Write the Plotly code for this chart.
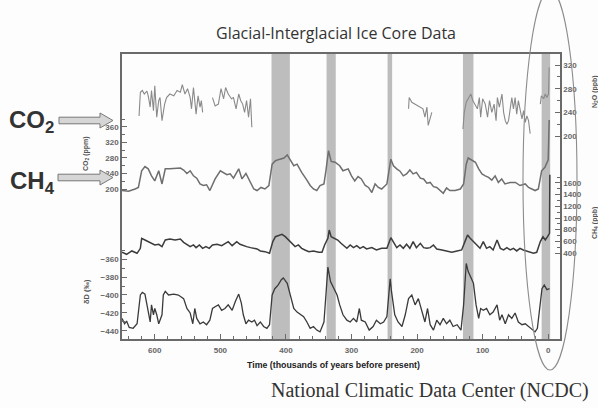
import plotly.graph_objects as go

W, H = 598, 408

# ---- data -------------------------------------------------------------
# interglacial periods (thousands of years before present)
interglacials = [(422, 394), (338, 324), (245, 238), (130, 114), (10, -3)]

co2_age = [650, 640, 630, 625, 620, 615, 610, 605, 600, 594, 589, 584, 577, 569, 561, 556,
           551, 546, 541, 536, 531, 526, 521, 516, 508, 500, 495, 490, 485, 480, 472, 467,
           461, 454, 449, 444, 438, 432, 426, 421, 416, 409, 403, 398, 393, 388, 383, 376,
           368, 363, 358, 353, 348, 342, 339, 335, 331, 325, 318, 313, 305, 300, 295, 290,
           285, 279, 274, 269, 264, 259, 254, 246, 240, 236, 231, 226, 221, 216, 211, 206,
           201, 195, 190, 185, 180, 175, 170, 165, 160, 155, 150, 142, 134, 129, 125, 122,
           117, 111, 106, 101, 96, 91, 86, 81, 76, 71, 66, 58, 50, 43, 35, 30, 25, 20, 15,
           10, 5, 0, -1.5]
co2_ppm = [196, 194, 200, 204, 247, 258, 252, 234, 221, 247, 213, 252, 252, 253, 254, 249,
           240, 247, 234, 228, 213, 209, 211, 196, 226, 247, 242, 237, 239, 228, 252, 226,
           240, 215, 200, 196, 204, 200, 209, 264, 273, 277, 280, 288, 275, 260, 264, 243,
           223, 209, 200, 196, 209, 213, 247, 299, 271, 269, 260, 247, 252, 234, 221, 232,
           226, 209, 204, 191, 213, 204, 200, 213, 277, 260, 252, 246, 234, 239, 249, 239,
           243, 228, 226, 215, 217, 206, 204, 197, 189, 203, 196, 196, 200, 213, 264, 280,
           275, 269, 252, 239, 234, 230, 223, 234, 217, 226, 213, 217, 217, 209, 213, 204,
           200, 196, 200, 247, 256, 275, 378]

n2o_age = [624, 622, 619, 616, 612, 610, 607, 605, 602, 600, 597, 594, 592, 589, 585, 582,
           577, 571, 566, 561, 558, 554, 550, 546, 544, 541, 537, 534, 531, 529, 527, None,
           512, 508, 503, 499, 495, 492, 488, 483, 480, 476, 472, 469, 466, 463, 460, 457,
           454, 452, None,
           213, 212, 208, 203, 199.5, 195, 191, 188, 185, 183, 180, 177.5, None,
           130, 128, 125, 121.5, 118, 115, 111.5, 108, 105, 103, 100, 96, 92.5, 89.5, 86,
           82.5, 79.5, 77.5, 74.5, 70.5, 68, 65.5, 63, 60.5, 55.5, 53, 50.5, 48, 45.5, 43,
           40, 37.5, 35, 32.5, 30, 27.5, None,
           12, 10.5, 7, 4.5, 2, -0.5, -1.5]
n2o_ppb = [234, 274, 277, 271, 276, 268, 249, 277, 243, 285, 232, 260, 265, 226, 254, 265,
           271, 268, 277, 274, 287, 271, 280, 265, 246, 282, 237, 268, 249, 260, 240, None,
           265, 251, 254, 280, 263, 282, 271, 263, 265, 246, 271, 260, 254, 240, 260, 232,
           263, 215, None,
           246, 265, 257, 254, 251, 249, 246, 232, 249, 218, 229, 240, None,
           212, 240, 257, 263, 271, 260, 254, 246, 265, 232, 263, 254, 232, 260, 240,
           254, 226, 265, 249, 271, 240, 226, 220, 226, 265, 246, 265, 237, 260, 246,
           229, 243, 223, 234, 226, 204, None,
           254, 268, 263, 271, 265, 271, 316]

ch4_age = [650, 643, 635, 627, 622, 620, 615, 610, 605, 600, 594, 589, 584, 577, 569, 561,
           556, 551, 546, 541, 537, 532, 527, 522, 517, 512, 505, 498, 493, 488, 482, 475,
           470, 465, 460, 454, 449, 444, 439, 432, 425, 420, 416, 411, 406, 401, 396, 391,
           386, 381, 376, 371, 365, 358, 350, 345, 341, 336, 334, 331, 326, 321, 316, 313,
           307, 302, 297, 292, 287, 282, 277, 269, 262, 254, 246, 240, 236, 231, 226, 221,
           216, 211, 206, 201, 195, 190, 185, 180, 175, 170, 162, 155, 147, 139, 132, 127,
           123, 119, 114, 109, 104, 99, 94, 89, 84, 78, 73, 68, 63, 58, 53, 48, 43, 38, 33,
           27.5, 22.5, 17.5, 12, 8, 4.5, 1, -2, -2.5]
ch4_ppb = [412, 378, 435, 395, 480, 652, 623, 595, 566, 538, 549, 509, 623, 640, 623, 640,
           583, 549, 509, 538, 492, 538, 480, 509, 480, 538, 549, 526, 566, 595, 526, 595,
           549, 526, 509, 492, 480, 469, 435, 423, 395, 595, 680, 697, 720, 680, 623, 549,
           509, 538, 480, 452, 423, 435, 412, 412, 538, 652, 794, 680, 652, 623, 566, 538,
           480, 538, 492, 526, 480, 509, 469, 492, 452, 480, 480, 663, 595, 492, 538, 480,
           549, 480, 595, 492, 566, 492, 480, 492, 538, 469, 452, 435, 412, 435, 452, 595,
           709, 652, 595, 526, 480, 595, 480, 509, 452, 623, 480, 452, 492, 452, 480, 435,
           480, 452, 435, 412, 395, 412, 595, 680, 623, 680, 737, 1740]

dd_age = [650, 646, 643, 639, 633, 627, 622, 619, 615, 611, 607, 605, 602, 600, 597, 594,
          589, 587, 584, 579, 571, 564, 556, 551, 546, 542, 539, 536, 531, 526, 521, 516,
          512, 508, 503, 498, 493, 488, 482, 477, 472, 468, 465, 461, 457, 452, 448, 444,
          439, 434, 429, 425, 421, 417, 412, 407, 404, 398, 393, 388, 383, 378, 373, 368,
          363, 358, 353, 348, 342, 339, 336, 332, 327, 322, 318, 313, 307, 302, 297, 292,
          288, 285, 279, 273, 267, 262, 256, 251, 246, 241, 239, 234, 229, 223, 218, 213,
          208, 203, 198, 193, 188, 184, 180, 175, 170, 165, 160, 155, 150, 145, 139, 133,
          129, 125, 122, 117, 114, 110, 106, 103, 99, 94, 89, 84, 78, 74, 70.5, 65.5, 60.5,
          55.5, 50.5, 45.5, 40, 35, 30, 25, 20, 16.5, 13, 9.5, 6, 2, -2]
dd_permil = [-426, -432, -429, -436, -437, -432, -400, -397, -399, -415, -430, -411, -422,
             -415, -422, -432, -422, -400, -396, -400, -399, -400, -404, -415, -420, -432,
             -415, -426, -432, -430, -433, -428, -415, -413, -411, -417, -415, -411, -417,
             -407, -399, -409, -422, -432, -428, -430, -428, -434, -430, -435, -437, -433,
             -400, -393, -389, -383, -381, -387, -400, -415, -419, -422, -424, -430, -437,
             -435, -439, -441, -430, -400, -369, -385, -393, -400, -411, -422, -428, -430,
             -426, -430, -415, -428, -430, -439, -435, -428, -432, -430, -424, -382, -396,
             -422, -430, -435, -422, -404, -400, -411, -404, -417, -430, -415, -433, -439,
             -428, -433, -426, -432, -428, -435, -433, -439, -411, -365, -374, -382, -387,
             -411, -426, -415, -417, -415, -422, -419, -411, -428, -422, -432, -422, -426,
             -420, -430, -433, -432, -435, -439, -441, -437, -411, -393, -389, -394, -393]

# ---- helpers: pixel -> paper ------------------------------------------
def px(x):
    return x / W


def py(y):
    return 1 - y / H


PLOT_L, PLOT_R, PLOT_T, PLOT_B = 122, 560, 54, 339
ydom = [py(PLOT_B), py(PLOT_T)]

fig = go.Figure()

fig.add_trace(go.Scatter(x=n2o_age, y=n2o_ppb, mode="lines", yaxis="y2",
                         line=dict(color="#8a8a8a", width=1.1), showlegend=False))
fig.add_trace(go.Scatter(x=co2_age, y=co2_ppm, mode="lines", yaxis="y",
                         line=dict(color="#6e6e6e", width=1.5), showlegend=False))
fig.add_trace(go.Scatter(x=ch4_age, y=ch4_ppb, mode="lines", yaxis="y3",
                         line=dict(color="#3c3c3c", width=1.5), showlegend=False))
fig.add_trace(go.Scatter(x=dd_age, y=dd_permil, mode="lines", yaxis="y4",
                         line=dict(color="#3a3a3a", width=1.3), showlegend=False))

shapes = []
for a, b in interglacials:
    shapes.append(dict(type="rect", xref="x", yref="paper", x0=a, x1=b,
                       y0=ydom[0], y1=ydom[1], fillcolor="#bdbdbd",
                       line=dict(width=0), layer="below"))


def arrow(x0, x1, xh, yc, bh, hh):
    pts = [(x0, yc - bh), (xh, yc - bh), (xh, yc - hh), (x1, yc),
           (xh, yc + hh), (xh, yc + bh), (x0, yc + bh)]
    d = "M " + " L ".join(f"{px(a):.5f},{py(b):.5f}" for a, b in pts) + " Z"
    return dict(type="path", xref="paper", yref="paper", path=d,
                fillcolor="#d6d6d6", line=dict(color="#777777", width=1))


shapes.append(arrow(59, 113, 100, 120.5, 3.3, 7.5))
shapes.append(arrow(58, 113, 100, 177.5, 3.3, 7.5))

# highlight around the present day
shapes.append(dict(type="circle", xref="paper", yref="paper",
                   x0=px(523), x1=px(577), y0=py(370), y1=py(-10),
                   line=dict(color="#8c8c8c", width=1.1)))

tickfont = dict(family="Arial", size=8, color="#666666", weight="bold")
common = dict(domain=ydom, anchor="x", showgrid=False, zeroline=False,
              showline=True, linecolor="#6a6a6a", linewidth=1.5,
              ticks="inside", ticklen=5, tickcolor="#6a6a6a", tickfont=tickfont)

fig.update_layout(
    width=W, height=H,
    margin=dict(l=0, r=0, t=0, b=0),
    paper_bgcolor="#fdfdfd", plot_bgcolor="rgba(0,0,0,0)",
    showlegend=False,
    xaxis=dict(domain=[px(PLOT_L), px(PLOT_R)], range=[650, -18],
               tickvals=[0, 100, 200, 300, 400, 500, 600],
               ticks="inside", ticklen=5, tickcolor="#6a6a6a",
               minor=dict(tickvals=[20, 40, 60, 80, 120, 140, 160, 180, 220, 240, 260,
                                    280, 320, 340, 360, 380, 420, 440, 460, 480, 520,
                                    540, 560, 580, 620, 640],
                          ticks="inside", ticklen=3, tickcolor="#6a6a6a"),
               showline=True, mirror=True, linecolor="#6a6a6a", linewidth=1.5,
               showgrid=False, zeroline=False, tickfont=tickfont,
               ticklabelstandoff=3),
    yaxis=dict(common, side="left", range=[-187, 548.3],
               tickvals=[200, 240, 280, 320, 360],
               minor=dict(tickvals=[220, 260, 300, 340, 380], ticks="inside",
                          ticklen=3, tickcolor="#6a6a6a")),
    yaxis2=dict(common, side="right", overlaying="y", range=[-142.8, 338.6],
                tickvals=[200, 240, 280, 320],
                minor=dict(tickvals=[220, 260, 300], ticks="inside",
                           ticklen=3, tickcolor="#6a6a6a")),
    yaxis3=dict(common, side="right", overlaying="y", range=[-1074, 3811],
                tickvals=[400, 600, 800, 1000, 1200, 1400, 1600],
                minor=dict(tickvals=[500, 700, 900, 1100, 1300, 1500, 1700],
                           ticks="inside", ticklen=3, tickcolor="#6a6a6a")),
    yaxis4=dict(common, side="left", overlaying="y", range=[-448.9, -132.2],
                tickvals=[-440, -420, -400, -380, -360],
                minor=dict(tickvals=[-430, -410, -390, -370, -350], ticks="inside",
                           ticklen=3, tickcolor="#6a6a6a")),
    shapes=shapes,
)

ann = [
    dict(text="Glacial-Interglacial Ice Core Data", x=px(336), y=py(33),
         font=dict(family="Open Sans", size=16, color="#333333")),
    dict(text="Time (thousands of years before present)", x=px(333), y=py(365),
         font=dict(family="Arial", size=8.8, color="#222222", weight="bold")),
    dict(text="National Climatic Data Center (NCDC)", x=px(591), y=py(390),
         xanchor="right", font=dict(family="Liberation Serif", size=20, color="#333333")),
    dict(text="CO<sub>2</sub>", x=px(31), y=py(121),
         font=dict(family="Arial", size=24, color="#333333", weight="bold")),
    dict(text="CH<sub>4</sub>", x=px(32), y=py(182),
         font=dict(family="Arial", size=24, color="#333333", weight="bold")),
    dict(text="CO<sub>2</sub> (ppm)", x=px(86), y=py(153), textangle=-90,
         font=dict(family="Arial", size=7, color="#555555", weight="bold")),
    dict(text="δD (‰)", x=px(86), y=py(291), textangle=-90,
         font=dict(family="Arial", size=7.5, color="#555555", weight="bold")),
    dict(text="N<sub>2</sub>O (ppb)", x=px(595), y=py(92), textangle=-90,
         font=dict(family="Arial", size=7, color="#555555", weight="bold")),
    dict(text="CH<sub>4</sub> (ppb)", x=px(595), y=py(223), textangle=-90,
         font=dict(family="Arial", size=7, color="#555555", weight="bold")),
]
for a in ann:
    a.update(xref="paper", yref="paper", showarrow=False)
    a.setdefault("xanchor", "center")
    a.setdefault("yanchor", "middle")
fig.update_layout(annotations=ann)

fig.write_html("out.html")
